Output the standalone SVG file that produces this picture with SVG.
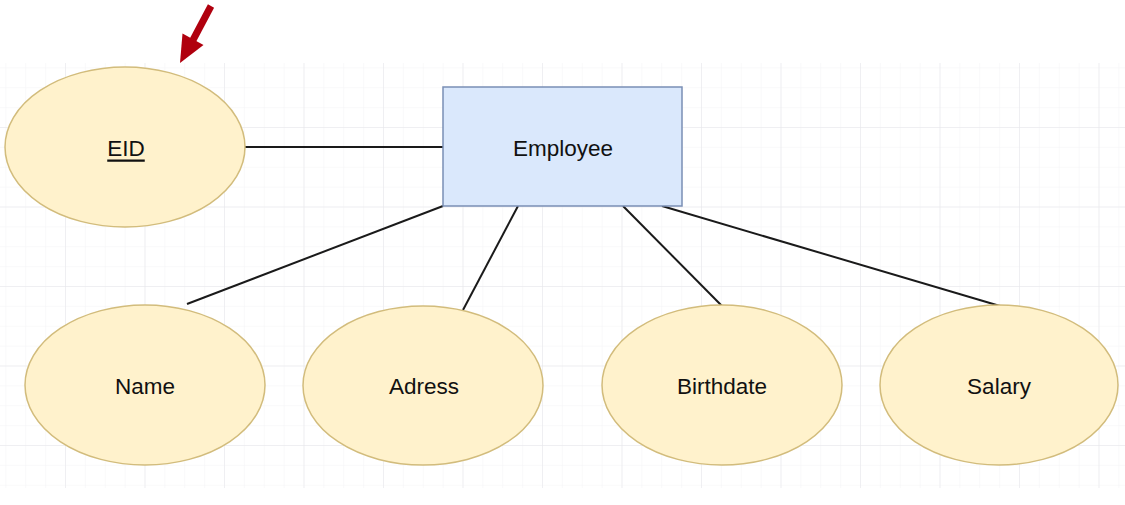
<svg xmlns="http://www.w3.org/2000/svg" width="1125" height="505" viewBox="0 0 1125 505">
  <style>
    .attr { fill: #fff2cc; stroke: #d2bc7c; stroke-width: 1.5; }
    .ent { fill: #dae8fc; stroke: #7a8fb5; stroke-width: 1.5; }
    .lbl { font-family: "Liberation Sans", Arial, sans-serif; font-size: 22.5px; fill: #111111; text-anchor: middle; dominant-baseline: central; }
    .conn line { stroke: #1a1a1a; stroke-width: 2; }
  </style>
  <defs>
    <pattern id="minor" patternUnits="userSpaceOnUse" x="65" y="127" width="19.875" height="19.875">
      <path d="M 0 0 L 0 19.875 M 0 0 L 19.875 0" fill="none" stroke="#f3f3f6" stroke-width="1"/>
    </pattern>
    <pattern id="major" patternUnits="userSpaceOnUse" x="65" y="127" width="79.5" height="79.5">
      <path d="M 0 0 L 0 79.5 M 0 0 L 79.5 0" fill="none" stroke="#e6e6ea" stroke-width="1"/>
    </pattern>
  </defs>
  <rect x="0" y="0" width="1125" height="505" fill="#ffffff"/>
  <g id="grid">
    <rect x="0" y="63" width="1125" height="425" fill="url(#minor)"/>
    <rect x="0" y="63" width="1125" height="425" fill="url(#major)"/>
  </g>
  <g id="connectors" class="conn">
    <line x1="245" y1="147" x2="443" y2="147"/>
    <line x1="443" y1="206" x2="187" y2="304"/>
    <line x1="518" y1="206" x2="463" y2="310"/>
    <line x1="623" y1="206" x2="722" y2="306"/>
    <line x1="662" y1="206" x2="1000" y2="306"/>
  </g>
  <g id="node-employee">
    <rect class="ent" x="443" y="87" width="239" height="119"/>
    <text class="lbl" x="563" y="148">Employee</text>
  </g>
  <g id="node-eid">
    <ellipse class="attr" cx="125" cy="147" rx="120" ry="80"/>
    <text class="lbl" x="126" y="148" text-decoration="underline">EID</text>
  </g>
  <g id="node-name">
    <ellipse class="attr" cx="145" cy="385" rx="120" ry="80"/>
    <text class="lbl" x="145" y="386">Name</text>
  </g>
  <g id="node-adress">
    <ellipse class="attr" cx="423" cy="385.5" rx="120" ry="79.5"/>
    <text class="lbl" x="424" y="386">Adress</text>
  </g>
  <g id="node-birthdate">
    <ellipse class="attr" cx="722" cy="385" rx="120" ry="80"/>
    <text class="lbl" x="722" y="386">Birthdate</text>
  </g>
  <g id="node-salary">
    <ellipse class="attr" cx="999" cy="385" rx="119" ry="80"/>
    <text class="lbl" x="999" y="386">Salary</text>
  </g>
  <g id="pointer">
    <line x1="211" y1="6" x2="193" y2="40" stroke="#b0000e" stroke-width="7"/>
    <polygon points="180,63 182.5,33.5 203.5,45" fill="#b0000e"/>
  </g>
</svg>
